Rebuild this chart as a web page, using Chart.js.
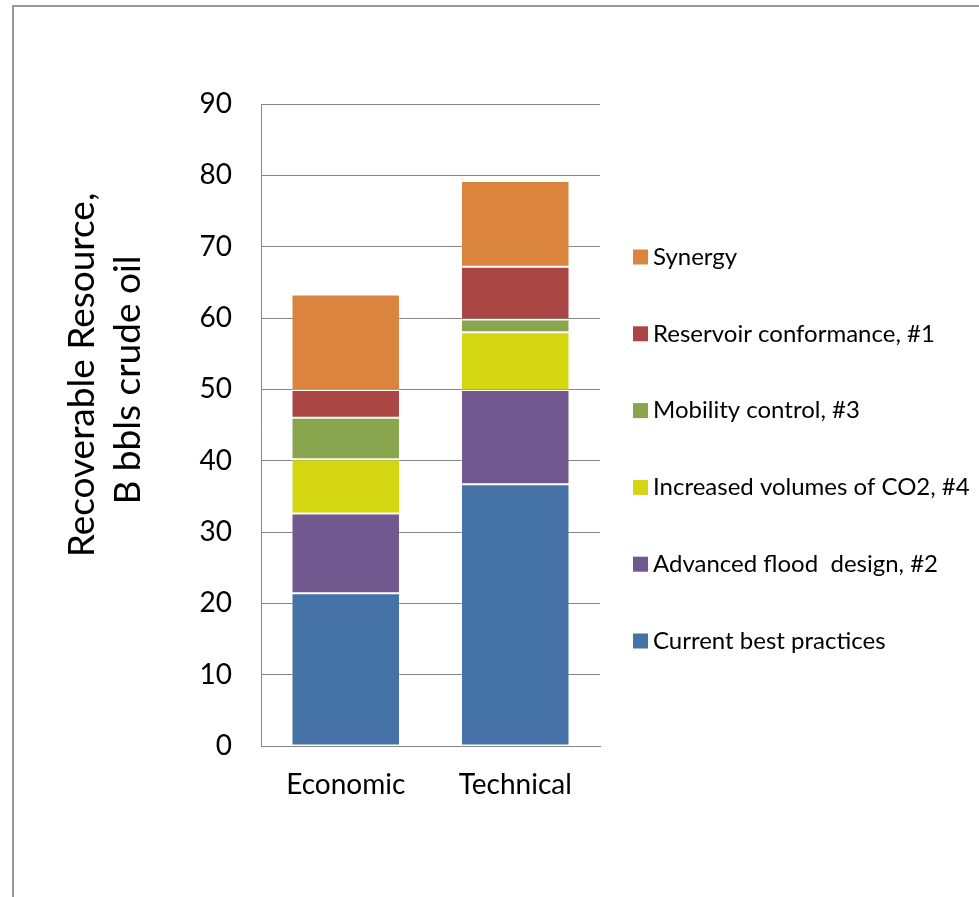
<!DOCTYPE html>
<html>
<head>
<meta charset="utf-8">
<title>Recoverable Resource</title>
<script src="https://cdn.jsdelivr.net/npm/chart.js@4.4.1/dist/chart.umd.min.js"></script>
<style>
  html, body { margin: 0; padding: 0; background: #fff; overflow: hidden; }
  #frame {
    position: absolute; left: 12px; top: 5px;
    width: 1100px; height: 1000px;
    border: 2px solid #9a9a9a;
    box-sizing: border-box;
  }
  #wrap { position: absolute; left: 0; top: 0; width: 979px; height: 897px; }
</style>
</head>
<body>
<div id="frame"></div>
<div id="wrap"><canvas id="chart" width="979" height="897"></canvas></div>
<script>
// Categories and stacked segments (billion barrels)
const categories = ['Economic', 'Technical'];
const currentBest = [21.4, 36.7];
const advancedFlood = [11.2, 13.2];
const increasedCO2 = [7.6, 8.1];
const mobilityControl = [5.8, 1.8];
const reservoirConformance = [3.9, 7.4];
const synergy = [13.4, 12.0];
const yTicks = [0, 10, 20, 30, 40, 50, 60, 70, 80, 90];
const yTitle = ['Recoverable Resource,', 'B bbls crude oil'];

const font = "Lato, 'Open Sans', sans-serif";

const datasets = [
    { label: 'Current best practices', data: currentBest, backgroundColor: '#4572a7' },
    { label: 'Advanced flood  design, #2', data: advancedFlood, backgroundColor: '#71588f' },
    { label: 'Increased volumes of CO2, #4', data: increasedCO2, backgroundColor: '#d3d610' },
    { label: 'Mobility control, #3', data: mobilityControl, backgroundColor: '#89a54e' },
    { label: 'Reservoir conformance, #1', data: reservoirConformance, backgroundColor: '#aa4643' },
    { label: 'Synergy', data: synergy, backgroundColor: '#db843d' }
].map(function (d) {
    d.borderColor = 'rgba(255,255,255,0.22)';
    d.borderWidth = 1;
    d.borderSkipped = false;
    d.barPercentage = 0.64;
    d.categoryPercentage = 1.0;
    return d;
});

// legend on the right, top item = last dataset
const sideLegend = {
    id: 'sideLegend',
    afterDraw: function (chart) {
        const ctx = chart.ctx;
        const area = chart.chartArea;
        const x = area.right + 33;
        let y = area.top + 153;
        ctx.save();
        ctx.font = '24px ' + font;
        ctx.textBaseline = 'middle';
        ctx.textAlign = 'left';
        for (let i = chart.data.datasets.length - 1; i >= 0; i--) {
            const ds = chart.data.datasets[i];
            ctx.fillStyle = ds.backgroundColor;
            ctx.fillRect(x, y - 7.5, 15, 15);
            ctx.fillStyle = '#000';
            ctx.fillText(ds.label, x + 20, y);
            y += 76.8;
        }
        ctx.restore();
    }
};

// two-line rotated y axis title, sits a bit above the plot's middle
const axisTitle = {
    id: 'axisTitle',
    afterDraw: function (chart) {
        const ctx = chart.ctx;
        const area = chart.chartArea;
        ctx.save();
        ctx.translate(82, area.top + 271);
        ctx.rotate(-Math.PI / 2);
        ctx.font = '37px ' + font;
        ctx.fillStyle = '#000';
        ctx.textAlign = 'center';
        ctx.textBaseline = 'middle';
        yTitle.forEach(function (line, i) {
            ctx.fillText(line, i === 0 ? 0 : -5, i * 46);
        });
        ctx.restore();
    }
};

new Chart(document.getElementById('chart'), {
    type: 'bar',
    data: { labels: categories, datasets: datasets },
    plugins: [sideLegend, axisTitle],
    options: {
        responsive: false,
        animation: false,
        layout: { padding: { left: 0, right: 379, top: 104, bottom: 0 } },
        plugins: {
            legend: { display: false },
            tooltip: { enabled: false }
        },
        scales: {
            x: {
                stacked: true,
                grid: { display: false, drawTicks: false },
                border: { color: '#868686', width: 1 },
                ticks: { color: '#000', padding: 22, font: { family: font, size: 28 } },
                afterFit: function (scale) { scale.height = 151; }
            },
            y: {
                stacked: true,
                min: 0,
                max: 90,
                afterBuildTicks: function (scale) {
                    scale.ticks = yTicks.map(function (v) { return { value: v }; });
                },
                grid: { color: '#868686', lineWidth: 1, drawTicks: false },
                border: { color: '#868686', width: 1 },
                ticks: { color: '#000', padding: 29, font: { family: font, size: 28 } },
                afterFit: function (scale) { scale.width = 261; }
            }
        }
    }
});
</script>
</body>
</html>
